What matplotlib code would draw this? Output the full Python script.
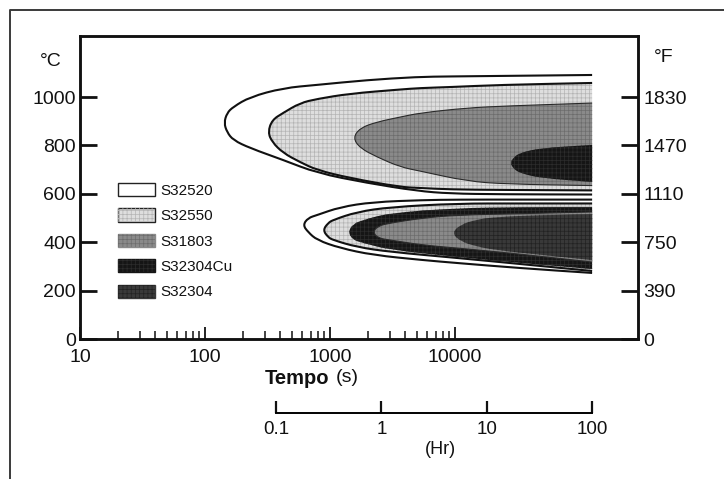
import numpy as np
import matplotlib
matplotlib.use("Agg")
import matplotlib.pyplot as plt
from matplotlib.path import Path
from matplotlib.patches import PathPatch, Patch
from matplotlib.lines import Line2D
from matplotlib.ticker import FixedLocator, NullFormatter

plt.rcParams['font.family'] = ['Liberation Sans', 'DejaVu Sans']
plt.rcParams['hatch.linewidth'] = 0.5

W, H, DPI = 724, 479, 100

# ---- axis ticks -----------------------------------------------------------
time_ticks = [10, 100, 1000, 10000]
time_labels = ['10', '100', '1000', '10000']
time_minor = [20, 30, 40, 50, 60, 70, 80, 90,
              200, 300, 400, 500, 600, 700, 800, 900,
              2000, 3000, 4000, 5000, 6000, 7000, 8000, 9000]
temp_ticks = [0, 200, 400, 600, 800, 1000]
temp_labels = ['0', '200', '400', '600', '800', '1000']
fahr_labels = ['0', '390', '750', '1110', '1470', '1830']
hour_ticks = [0.1, 1, 10, 100]
hour_labels = ['0.1', '1', '10', '100']

grades = ['S32520', 'S32550', 'S31803', 'S32304Cu', 'S32304']

# ---- precipitation C-curves: time (s), upper / lower temperature (°C) ------
# high-temperature band
s32520_hi_t   = [142, 150, 168, 229, 421, 787, 1977, 4966, 9120, 22900, 125000]
s32520_hi_top = [893, 934, 959, 1000, 1037, 1050, 1070, 1083, 1085, 1087, 1091]
s32520_hi_bot = [893, 855, 822, 789, 740, 686, 645, 612, 601, 598, 597]

s32550_hi_t   = [319, 344, 421, 575, 787, 1445, 3631, 5248, 9120, 22900, 125000]
s32550_hi_top = [855, 905, 934, 975, 992, 1014, 1031, 1037, 1041, 1050, 1058]
s32550_hi_bot = [855, 814, 769, 731, 698, 665, 628, 624, 618, 616, 614]

s31803_hi_t   = [1528, 1738, 2377, 3631, 5248, 12470, 26060, 125000]
s31803_hi_top = [831, 872, 897, 917, 934, 955, 963, 975]
s31803_hi_bot = [831, 789, 752, 711, 694, 652, 640, 634]

s32304cu_hi_t   = [27540, 29650, 33110, 47860, 125000]
s32304cu_hi_top = [727, 752, 769, 789, 802]
s32304cu_hi_bot = [727, 702, 686, 665, 649]

# low-temperature band
s32520_lo_t   = [608, 667, 787, 1202, 2208, 5546, 10375, 33110, 125000]
s32520_lo_top = [471, 500, 512, 545, 566, 574, 576, 576, 576]
s32520_lo_bot = [471, 442, 409, 376, 347, 326, 314, 293, 273]

s32550_lo_t   = [879, 964, 1057, 1644, 3020, 10375, 33110, 125000]
s32550_lo_top = [450, 479, 492, 525, 545, 560, 560, 560]
s32550_lo_bot = [450, 421, 409, 380, 360, 335, 310, 281]

s32304cu_lo_t   = [1393, 1528, 1837, 3020, 10375, 33110, 125000]
s32304cu_lo_top = [442, 475, 492, 521, 541, 545, 545]
s32304cu_lo_bot = [442, 409, 397, 368, 339, 314, 289]

s31803_lo_t   = [2208, 2421, 3020, 5546, 10375, 33110, 125000]
s31803_lo_top = [442, 467, 479, 500, 512, 518, 525]
s31803_lo_bot = [442, 417, 409, 388, 376, 351, 318]

s32304_lo_t   = [9462, 10960, 14450, 20890, 47860, 125000]
s32304_lo_top = [438, 471, 492, 504, 512, 515]
s32304_lo_bot = [438, 405, 384, 368, 348, 326]

# ---- fill styles per grade ------------------------------------------------
styles = {
    'S32520':   dict(fc='#ffffff', hc=None,      hatch=None,   ec='#111111', lw=1.5),
    'S32550':   dict(fc='#dedede', hc='#b4b4b4', hatch='++++', ec='#111111', lw=1.5),
    'S31803':   dict(fc='#8a8a8a', hc='#6c6c6c', hatch='++++', ec='#2a2a2a', lw=0.8),
    'S32304Cu': dict(fc='#151515', hc='#2c2c2c', hatch='++++', ec=None,      lw=0),
    'S32304':   dict(fc='#393939', hc='#222222', hatch='++++', ec=None,      lw=0),
}


def outline_points(t, top, bot):
    xs = list(t[::-1]) + list(t[1:])
    ys = list(top[::-1]) + list(bot[1:])
    return np.column_stack([xs, ys]).astype(float)


def smooth_path(pts, closed):
    """Quadratic B-spline through the outline (midpoints taken in log-time)."""
    def mid(a, b):
        return np.array([np.sqrt(a[0] * b[0]), 0.5 * (a[1] + b[1])])
    verts = [pts[0], mid(pts[0], pts[1])]
    codes = [Path.MOVETO, Path.LINETO]
    for i in range(1, len(pts) - 1):
        verts += [pts[i], mid(pts[i], pts[i + 1])]
        codes += [Path.CURVE3, Path.CURVE3]
    verts.append(pts[-1])
    codes.append(Path.LINETO)
    if closed:
        verts.append(pts[0])
        codes.append(Path.CLOSEPOLY)
    return Path(np.array(verts), codes)


def draw_region(ax, grade, t, top, bot):
    st = styles[grade]
    pts = outline_points(t, top, bot)
    closed = smooth_path(pts, True)
    ax.add_patch(PathPatch(closed, facecolor=st['fc'], edgecolor='none', lw=0, zorder=2))
    if st['hatch']:
        ax.add_patch(PathPatch(closed, facecolor='none', edgecolor=st['hc'],
                               hatch=st['hatch'], lw=0, zorder=2))
    if st['ec']:
        ax.add_patch(PathPatch(smooth_path(pts, False), facecolor='none',
                               edgecolor=st['ec'], lw=st['lw'], zorder=2,
                               capstyle='butt'))


fig = plt.figure(figsize=(W / DPI, H / DPI), dpi=DPI)
fig.patch.set_facecolor('white')

# outer frame
fig.add_artist(Line2D([10 / W, 10 / W, 1.0], [0.0, 1 - 10 / H, 1 - 10 / H],
                      transform=fig.transFigure, color='#3a3a3a', lw=1.4))

ax = fig.add_axes([80 / W, 1 - 339 / H, (638 - 80) / W, (339 - 36) / H])
ax.set_xscale('log')
ax.set_xlim(10, 10 ** (1 + 558 / 125))
ax.set_ylim(0, 303 / 0.242)

for grade, t, top, bot in [
        ('S32520', s32520_hi_t, s32520_hi_top, s32520_hi_bot),
        ('S32550', s32550_hi_t, s32550_hi_top, s32550_hi_bot),
        ('S31803', s31803_hi_t, s31803_hi_top, s31803_hi_bot),
        ('S32304Cu', s32304cu_hi_t, s32304cu_hi_top, s32304cu_hi_bot),
        ('S32520', s32520_lo_t, s32520_lo_top, s32520_lo_bot),
        ('S32550', s32550_lo_t, s32550_lo_top, s32550_lo_bot),
        ('S32304Cu', s32304cu_lo_t, s32304cu_lo_top, s32304cu_lo_bot),
        ('S31803', s31803_lo_t, s31803_lo_top, s31803_lo_bot),
        ('S32304', s32304_lo_t, s32304_lo_top, s32304_lo_bot)]:
    draw_region(ax, grade, t, top, bot)

for s in ax.spines.values():
    s.set_linewidth(1.8)
    s.set_color('#111111')

ax.xaxis.set_major_locator(FixedLocator(time_ticks))
ax.xaxis.set_minor_locator(FixedLocator(time_minor))
ax.set_xticklabels(time_labels)
ax.xaxis.set_minor_formatter(NullFormatter())
ax.tick_params(axis='x', which='major', direction='in', length=9, width=1.3,
               pad=7, labelsize=14, colors='#111111')
ax.tick_params(axis='x', which='minor', direction='in', length=6, width=1.1,
               colors='#111111')
ax.set_yticks(temp_ticks)
ax.set_yticklabels(temp_labels)
ax.tick_params(axis='y', direction='in', length=12, width=2, pad=3,
               labelsize=14, colors='#111111')
for lbl in ax.get_yticklabels():
    lbl.set_va('center_baseline')

ax2 = ax.twinx()
ax2.set_ylim(ax.get_ylim())
ax2.set_yticks(temp_ticks)
ax2.set_yticklabels(fahr_labels)
ax2.tick_params(axis='y', direction='in', length=12, width=2, pad=4,
                labelsize=14, colors='#111111')
for s in ax2.spines.values():
    s.set_linewidth(1.8)
    s.set_color('#111111')

fig.text(51 / W, 1 - 62 / H, '°C', ha='center', va='center', fontsize=14, color='#111111')
fig.text(664 / W, 1 - 58 / H, '°F', ha='center', va='center', fontsize=14, color='#111111')
fig.text(265 / W, 1 - 378 / H, 'Tempo', ha='left', va='center', fontsize=14.5,
         fontweight='bold', color='#111111')
fig.text(336 / W, 1 - 378 / H, '(s)', ha='left', va='center', fontsize=14,
         color='#111111')

# hour scale below the time axis
axh = fig.add_axes([276 / W, 1 - 413 / H, (592 - 276) / W, 0.002])
axh.set_xscale('log')
axh.set_xlim(0.1, 100)
axh.patch.set_visible(False)
for s in ['left', 'right', 'top']:
    axh.spines[s].set_visible(False)
axh.spines['bottom'].set_linewidth(1.4)
axh.set_yticks([])
axh.xaxis.set_major_locator(FixedLocator(hour_ticks))
axh.set_xticklabels(hour_labels)
axh.xaxis.set_minor_locator(FixedLocator([]))
axh.tick_params(axis='x', direction='in', length=9, width=1.6, pad=6,
                labelsize=13.5, colors='#111111')
fig.text(440 / W, 1 - 450 / H, '(Hr)', ha='center', va='center', fontsize=13,
         color='#111111')

# legend
handles = []
for g in grades:
    st = styles[g]
    base = Patch(facecolor=st['fc'], edgecolor='#222222' if g in ('S32520', 'S32550') else st['fc'],
                 lw=1.0)
    if st['hatch']:
        handles.append((base, Patch(facecolor='none', edgecolor=st['hc'],
                                    hatch=st['hatch'], lw=0)))
    else:
        handles.append(base)
fig.legend(handles, grades, loc='upper left', bbox_to_anchor=(118 / W, 1 - 183 / H),
           frameon=False, borderpad=0, borderaxespad=0, handlelength=2.4,
           handleheight=0.95, handletextpad=0.35, labelspacing=0.69, fontsize=11,
           labelcolor='#111111')

fig.savefig('out.png', dpi=DPI)
